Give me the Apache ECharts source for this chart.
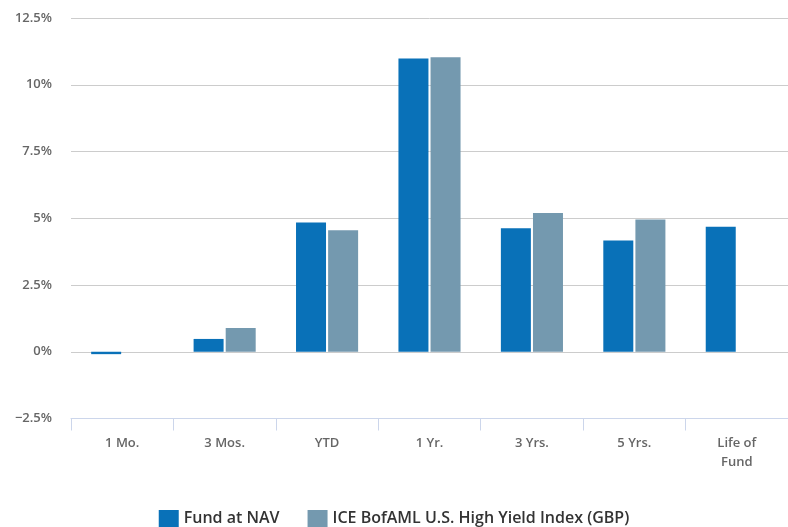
<!DOCTYPE html>
<html>
<head>
<meta charset="utf-8">
<script src="https://cdn.jsdelivr.net/npm/echarts@6/dist/echarts.min.js"></script>
<style>
  html, body { margin: 0; padding: 0; background: #fff; }
  #chart { width: 788px; height: 527px; }
</style>
</head>
<body>
<div id="chart"></div>
<script>
var categories = ['1 Mo.', '3 Mos.', 'YTD', '1 Yr.', '3 Yrs.', '5 Yrs.', 'Life of\nFund'];
var fundValues = [-0.09, 0.48, 4.84, 10.98, 4.63, 4.17, 4.68];
var indexValues = [0, 0.89, 4.55, 11.03, 5.2, 4.95, null];
var yTicks = { min: -2.5, max: 12.5, step: 2.5 };

var chart = echarts.init(document.getElementById('chart'));
var font = '"Open Sans", "DejaVu Sans", sans-serif';

chart.setOption({
    animation: false,
    textStyle: { fontFamily: font },
    grid: { left: 71, right: 0, top: 18, bottom: 108.5 },
    legend: {
        top: 505,
        left: 'center',
        itemWidth: 20,
        itemHeight: 17,
        itemGap: 28,
        icon: 'rect',
        textStyle: { fontSize: 16, fontWeight: 600, color: '#333', fontFamily: font }
    },
    xAxis: {
        type: 'category',
        data: categories,
        axisLine: { onZero: false, lineStyle: { color: '#ccd6eb' } },
        axisTick: { show: true, length: 12, lineStyle: { color: '#ccd6eb' } },
        axisLabel: { interval: 0, margin: 15, fontSize: 13, fontWeight: 600, color: '#666', lineHeight: 19, fontFamily: font }
    },
    yAxis: {
        type: 'value',
        min: yTicks.min,
        max: yTicks.max,
        interval: yTicks.step,
        axisLabel: {
            margin: 19, fontSize: 13, fontWeight: 600, color: '#666', fontFamily: font,
            formatter: function (v) { return (v < 0 ? '\u22122.5' : String(v)) + '%'; }
        },
        splitLine: { lineStyle: { color: '#cccccc' } },
        axisLine: { show: false },
        axisTick: { show: false }
    },
    series: [
        {
            name: 'Fund at NAV',
            type: 'bar',
            data: fundValues,
            barWidth: 30,
            barGap: '7%',
            itemStyle: { color: '#0971b8' }
        },
        {
            name: 'ICE BofAML U.S. High Yield Index (GBP)',
            type: 'bar',
            data: indexValues,
            barWidth: 30,
            itemStyle: { color: '#7499af' }
        }
    ]
});
</script>
</body>
</html>
